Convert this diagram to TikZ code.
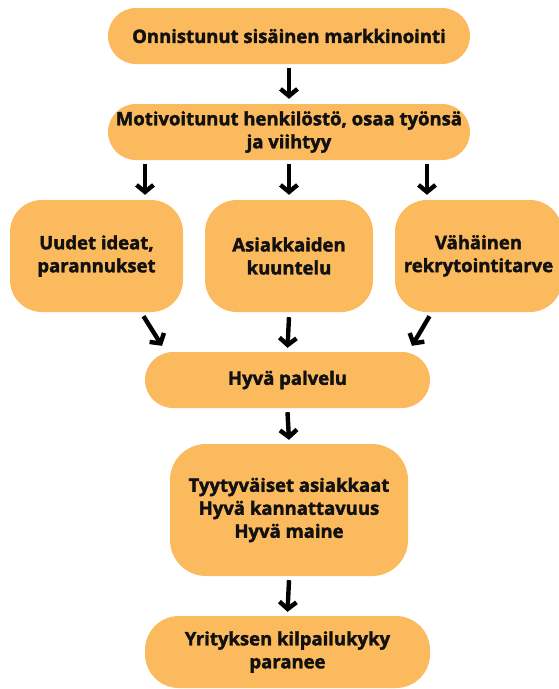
\documentclass[tikz,border=0pt]{standalone}
\usepackage{fontspec}
\setmainfont{Open Sans}[BoldFeatures={FakeBold=2}]
\usetikzlibrary{arrows.meta}
\definecolor{boxc}{HTML}{FCBA5E}
\definecolor{txt}{HTML}{111111}
\begin{document}
\begin{tikzpicture}[x=1pt,y=-1pt,
  box/.style={fill=boxc, draw=none, align=center, text=txt, inner sep=0pt,
    font=\bfseries\fontsize{18.5}{23}\selectfont},
  pill/.style={box, rounded corners=28pt},
  rbox/.style={box, rounded corners=32pt},
  arr/.style={draw=black, line width=4.4pt, -{Straight Barb[length=7pt,width=17pt]}}]
\useasboundingbox (0,0) rectangle (559,689);
\fill[white] (0,0) rectangle (559,689);
\node[pill, minimum width=362pt, minimum height=56pt] (b1) at (289,36) {Onnistunut sisäinen markkinointi};
\node[pill, minimum width=362pt, minimum height=56pt] (b2) at (289,132) {Motivoitunut henkilöstö, osaa työnsä\\ja viihtyy};
\node[rbox, minimum width=173pt, minimum height=112pt] (b3) at (96.5,256) {Uudet ideat,\\parannukset};
\node[rbox, minimum width=168pt, minimum height=112pt] (b4) at (289,256) {Asiakkaiden\\kuuntelu};
\node[rbox, minimum width=167pt, minimum height=112pt] (b5) at (478.5,256) {\raisebox{5pt}{\begin{tabular}{@{}c@{}}Vähäinen\\rekrytointitarve\end{tabular}}};
\node[pill, minimum width=285pt, minimum height=56pt] (b6) at (287.5,380) {Hyvä palvelu};
\node[rbox, rounded corners=36pt, minimum width=238pt, minimum height=132pt] (b7) at (289,510) {Tyytyväiset asiakkaat\\Hyvä kannattavuus\\Hyvä maine};
\node[pill, rounded corners=34pt, minimum width=285pt, minimum height=72pt] (b8) at (287.5,652) {Yrityksen kilpailukyky\\paranee};
\draw[arr] ([yshift=-4pt]b1.south) -- ([yshift=5pt]b2.north);
\draw[arr] ([xshift=-144pt,yshift=-4pt]b2.south) -- ([xshift=48.5pt,yshift=5pt]b3.north);
\draw[arr] ([yshift=-4pt]b2.south) -- ([yshift=5pt]b4.north);
\draw[arr] ([xshift=138pt,yshift=-4pt]b2.south) -- ([xshift=-51.5pt,yshift=5pt]b5.north);
\draw[arr] ([xshift=47pt,yshift=-4pt]b3.south) -- ([xshift=-125.5pt,yshift=6pt]b6.north);
\draw[arr] ([yshift=-5pt]b4.south) -- ([yshift=4pt]b6.north);
\draw[arr] ([xshift=-49pt,yshift=-4pt]b5.south) -- ([xshift=124.5pt,yshift=6pt]b6.north);
\draw[arr] ([yshift=-4pt]b6.south) -- ([yshift=4pt]b7.north);
\draw[arr] ([yshift=-4pt]b7.south) -- ([yshift=4pt]b8.north);
\end{tikzpicture}
\end{document}
